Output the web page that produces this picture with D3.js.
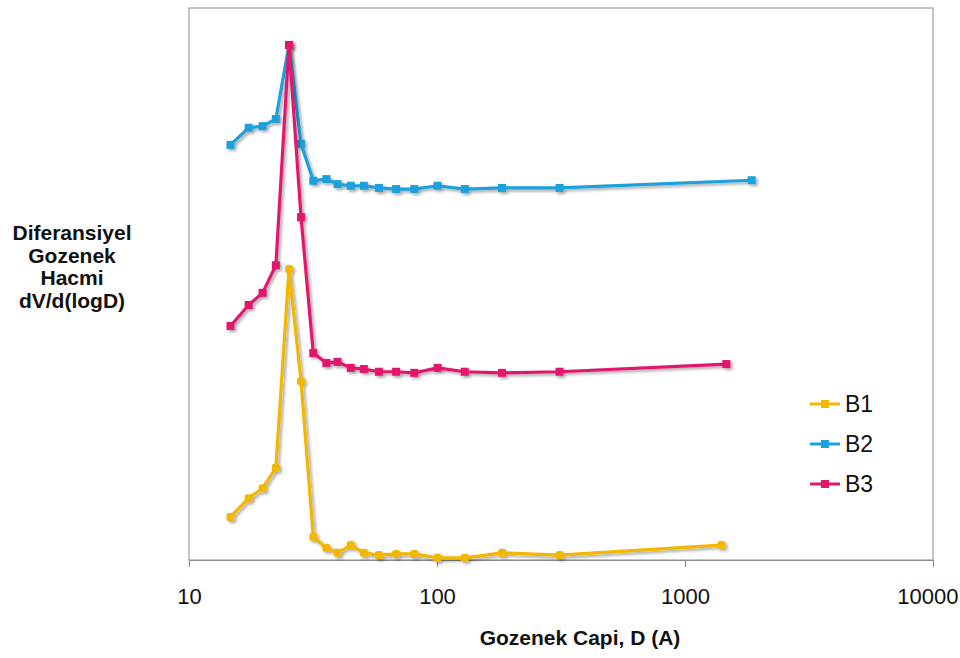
<!DOCTYPE html>
<html>
<head>
<meta charset="utf-8">
<script src="https://cdn.jsdelivr.net/npm/d3@7"></script>
<style>
  body { margin: 0; background: #fff; }
  text { font-family: "Liberation Sans", Arial, sans-serif; }
</style>
</head>
<body>
<svg></svg>
<script>
// pore diameter (A) for each point, last point differs per series
var diamCommon = [14.7, 17.4, 19.8, 22.4, 25.3, 28.3, 31.7, 35.8, 39.7, 44.9, 50.7, 58.3, 68.4, 81, 100.5, 129.4, 183, 312];
var diamB1 = diamCommon.concat([1402]);
var diamB2 = diamCommon.concat([1857]);
var diamB3 = diamCommon.concat([1469]);

// dV/d(logD), arbitrary units (no y ticks in the original)
var valB1 = [7.8, 11.2, 13.0, 16.7, 52.7, 32.4, 4.2, 2.2, 1.3, 2.7, 1.3, 0.9, 1.1, 1.1, 0.4, 0.4, 1.3, 0.9, 2.7];
var valB2 = [75.2, 78.3, 78.6, 79.9, 93.3, 75.4, 68.7, 69.0, 68.1, 67.8, 67.8, 67.4, 67.2, 67.2, 67.8, 67.2, 67.4, 67.4, 68.8];
var valB3 = [42.4, 46.2, 48.4, 53.4, 93.3, 62.1, 37.5, 35.7, 35.9, 34.8, 34.6, 34.1, 34.1, 33.9, 34.8, 34.1, 33.9, 34.1, 35.5];

var seriesNames = ["B1", "B2", "B3"];
var colors = ["#F2B705", "#1BA1DD", "#E2186C"];
var xTicks = [10, 100, 1000, 10000];

var series = [
  {name: "B1", pts: diamB1.map((d, i) => ({x: d, y: valB1[i]}))},
  {name: "B2", pts: diamB2.map((d, i) => ({x: d, y: valB2[i]}))},
  {name: "B3", pts: diamB3.map((d, i) => ({x: d, y: valB3[i]}))}
];

var W = 960, H = 658;
var margin = {top: 8, right: 27, bottom: 98, left: 189},
    width = W - margin.left - margin.right,
    height = H - margin.top - margin.bottom;

var svg = d3.select("svg")
    .attr("width", W)
    .attr("height", H);

var defs = svg.append("defs");
var f = defs.append("filter").attr("id", "shadow")
    .attr("x", "-10%").attr("y", "-10%").attr("width", "130%").attr("height", "130%");
f.append("feDropShadow").attr("dx", 2).attr("dy", 2).attr("stdDeviation", 1.6)
    .attr("flood-color", "#000").attr("flood-opacity", 0.35);

var g = svg.append("g")
    .attr("transform", "translate(" + margin.left + "," + margin.top + ")");

var x = d3.scaleLog().domain([10, 10000]).range([0, width]);
var y = d3.scaleLinear().domain([0, 100]).range([height, 0]);

// plot frame
g.append("rect")
    .attr("width", width).attr("height", height)
    .attr("fill", "none").attr("stroke", "#8c8c8c").attr("stroke-width", 1);

// x axis
var xAxis = g.append("g")
    .attr("transform", "translate(0," + height + ")")
    .call(d3.axisBottom(x).tickValues(xTicks).tickFormat(d3.format("d")).tickSize(7).tickPadding(21));
xAxis.select(".domain").attr("stroke", "#8c8c8c");
xAxis.selectAll(".tick line").attr("stroke", "#8c8c8c");
xAxis.selectAll("text").attr("font-size", 22).attr("fill", "#111")
    .style("font-family", "'Liberation Sans', Arial, sans-serif");
// last label would run off the page, keep it inside like the original
xAxis.selectAll(".tick text").filter(d => d === 10000)
    .attr("text-anchor", "end").attr("x", 25);

var line = d3.line().x(d => x(d.x)).y(d => y(d.y));

series.forEach(function(s, i) {
  var sg = g.append("g").attr("filter", "url(#shadow)");
  sg.append("path")
      .datum(s.pts)
      .attr("d", line)
      .attr("fill", "none")
      .attr("stroke", colors[i])
      .attr("stroke-width", 3.2)
      .attr("stroke-linejoin", "round");
  sg.selectAll("rect")
      .data(s.pts)
      .enter()
      .append("rect")
      .attr("x", d => x(d.x) - 4)
      .attr("y", d => y(d.y) - 4)
      .attr("width", 8)
      .attr("height", 8)
      .attr("rx", i === 0 ? 2.5 : 0)
      .attr("fill", colors[i]);
});

// legend
var legend = svg.append("g");
seriesNames.forEach(function(n, i) {
  var ly = 404 + i * 40;
  legend.append("line")
      .attr("x1", 810).attr("x2", 840).attr("y1", ly).attr("y2", ly)
      .attr("stroke", colors[i]).attr("stroke-width", 3);
  legend.append("rect")
      .attr("x", 821).attr("y", ly - 4).attr("width", 8).attr("height", 8)
      .attr("fill", colors[i]);
  legend.append("text")
      .attr("x", 845).attr("y", ly + 8)
      .attr("font-size", 23).attr("fill", "#111")
      .text(n);
});

// axis titles
svg.append("text")
    .attr("x", 580).attr("y", 645)
    .attr("text-anchor", "middle")
    .attr("font-size", 21).attr("font-weight", "bold").attr("fill", "#111")
    .text("Gozenek Capi, D (A)");

var yTitle = ["Diferansiyel", "Gozenek", "Hacmi", "dV/d(logD)"];
svg.append("g").selectAll("text")
    .data(yTitle)
    .enter()
    .append("text")
    .attr("x", 72)
    .attr("y", (d, i) => 240 + i * 22.7)
    .attr("text-anchor", "middle")
    .attr("font-size", 21).attr("font-weight", "bold").attr("fill", "#111")
    .text(d => d);
</script>
</body>
</html>
